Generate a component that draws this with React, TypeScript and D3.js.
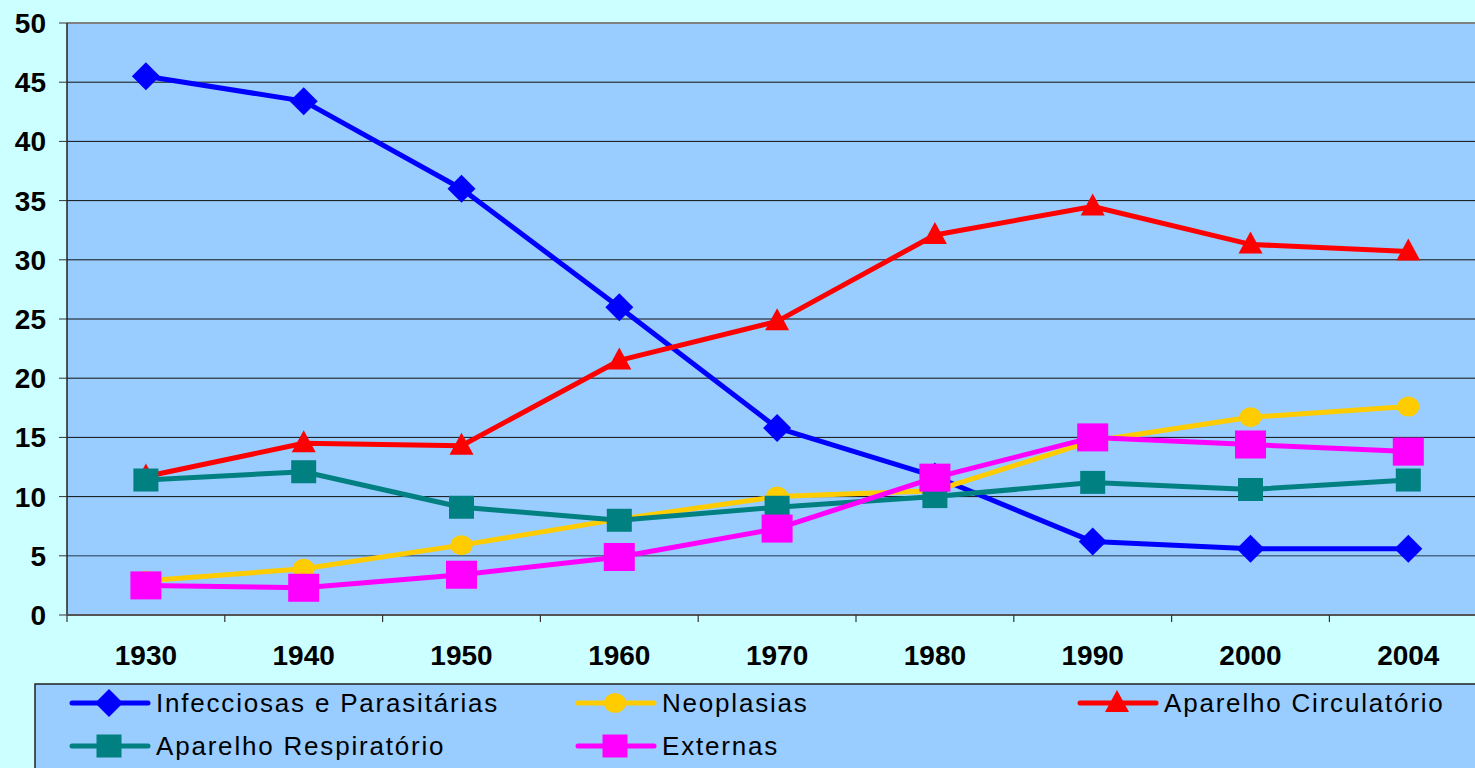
import React from 'react';
import * as d3 from 'd3';

const years = ['1930', '1940', '1950', '1960', '1970', '1980', '1990', '2000', '2004'];
const infecciosas = [45.5, 43.4, 36.0, 26.0, 15.8, 11.7, 6.2, 5.6, 5.6];
const neoplasias = [2.9, 3.9, 5.9, 8.1, 10.0, 10.5, 14.7, 16.7, 17.6];
const circulatorio = [11.7, 14.5, 14.3, 21.5, 24.8, 32.1, 34.5, 31.3, 30.7];
const respiratorio = [11.4, 12.1, 9.1, 8.0, 9.1, 10.0, 11.2, 10.6, 11.4];
const externas = [2.5, 2.3, 3.4, 4.9, 7.3, 11.6, 15.0, 14.4, 13.8];
const yTicks = [0, 5, 10, 15, 20, 25, 30, 35, 40, 45, 50];

type Shape = 'diamond' | 'circle' | 'triangle' | 'square' | 'bigsquare';

const series: { name: string; values: number[]; color: string; shape: Shape }[] = [
  { name: 'Infecciosas e Parasitárias', values: infecciosas, color: '#0000FF', shape: 'diamond' },
  { name: 'Neoplasias', values: neoplasias, color: '#FFCC00', shape: 'circle' },
  { name: 'Aparelho Circulatório', values: circulatorio, color: '#FF0000', shape: 'triangle' },
  { name: 'Aparelho Respiratório', values: respiratorio, color: '#008080', shape: 'square' },
  { name: 'Externas', values: externas, color: '#FF00FF', shape: 'bigsquare' },
];

function Marker({ shape, x, y, color }: { shape: Shape; x: number; y: number; color: string }) {
  if (shape === 'diamond') {
    return <path d={`M${x - 14},${y} L${x},${y - 14} L${x + 14},${y} L${x},${y + 14} Z`} fill={color} />;
  }
  if (shape === 'circle') {
    return <ellipse cx={x} cy={y} rx={11} ry={10} fill={color} />;
  }
  if (shape === 'triangle') {
    return <path d={`M${x},${y - 13} L${x + 12},${y + 9} L${x - 12},${y + 9} Z`} fill={color} />;
  }
  if (shape === 'square') {
    return <rect x={x - 12.5} y={y - 11.5} width={25} height={23} fill={color} />;
  }
  return <rect x={x - 15.5} y={y - 14} width={31} height={28} fill={color} />;
}

export default function App() {
  const W = 1475;
  const H = 768;
  const left = 67;
  const top = 23;
  const bottom = 615;
  const step = 157.8;
  const right = left + step * years.length;

  const x = d3.scaleBand<string>().domain(years).range([left, right]);
  const y = d3.scaleLinear().domain([0, 50]).range([bottom, top]);
  const cx = (yr: string) => (x(yr) as number) + x.bandwidth() / 2;

  const line = d3
    .line<number>()
    .x((_, i) => cx(years[i]))
    .y((d) => y(d));

  const legendCols = [72, 578, 1080];
  const legendRows = [703, 746];

  return (
    <svg width={W} height={H} style={{ position: 'absolute', left: 0, top: 0, display: 'block' }}
      fontFamily="'Liberation Sans', Arial, sans-serif">
      <rect x={0} y={0} width={W} height={H} fill="#CCFFFF" />
      <rect x={left} y={top} width={right - left} height={bottom - top} fill="#99CCFF" />
      <line x1={left} x2={right} y1={top} y2={top} stroke="#808080" strokeWidth={2} />

      {/* gridlines */}
      {yTicks.filter((t) => t > 0 && t < 50).map((t) => (
        <line key={t} x1={left} x2={right} y1={y(t)} y2={y(t)}
          stroke={t === 5 ? '#4a6a88' : '#111'} strokeWidth={t === 5 ? 1.6 : 1} />
      ))}

      {/* y axis */}
      <line x1={left} x2={left} y1={top} y2={bottom} stroke="#222" strokeWidth={1.5} />
      {yTicks.map((t) => (
        <g key={t}>
          <line x1={left - 8} x2={left} y1={y(t)} y2={y(t)} stroke="#333" strokeWidth={1} />
          <text x={46} y={y(t)} dy="0.36em" textAnchor="end" fontSize={28} fontWeight="bold" fill="#000">
            {t}
          </text>
        </g>
      ))}

      {/* x axis */}
      <line x1={left} x2={right} y1={bottom} y2={bottom} stroke="#555" strokeWidth={2} />
      {years.map((yr, i) => (
        <g key={yr}>
          <line x1={left + step * i} x2={left + step * i} y1={bottom} y2={bottom + 7} stroke="#333" strokeWidth={1.2} />
          <text x={cx(yr)} y={655} dy="0.36em" textAnchor="middle" fontSize={28} fontWeight="bold" fill="#000">
            {yr}
          </text>
        </g>
      ))}

      {/* series lines */}
      {series.map((s) => (
        <path key={s.name} d={line(s.values) || ''} fill="none" stroke={s.color} strokeWidth={5}
          strokeLinejoin="round" />
      ))}
      {series.map((s) => (
        <g key={s.name + '-m'}>
          {s.values.map((v, i) => (
            <Marker key={i} shape={s.shape} x={cx(years[i])} y={y(v)} color={s.color} />
          ))}
        </g>
      ))}

      {/* legend */}
      <rect x={35} y={684} width={1460} height={100} fill="#99CCFF" stroke="#222" strokeWidth={1.5} />
      {series.map((s, i) => {
        const lx = legendCols[i % 3];
        const ly = legendRows[Math.floor(i / 3)];
        return (
          <g key={s.name + '-l'}>
            <line x1={lx} x2={lx + 76} y1={ly} y2={ly} stroke={s.color} strokeWidth={5} strokeLinecap="round" />
            <Marker shape={s.shape === 'bigsquare' ? 'square' : s.shape} x={lx + 37} y={ly} color={s.color} />
            <text x={lx + 84} y={ly} dy="0.36em" fontSize={26} letterSpacing={1.8} fill="#000">
              {s.name}
            </text>
          </g>
        );
      })}
    </svg>
  );
}
